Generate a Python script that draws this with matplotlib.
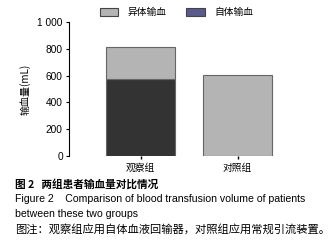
import matplotlib
matplotlib.use("Agg")
import matplotlib.pyplot as plt
from matplotlib.patches import Patch

groups = ["观察组", "对照组"]
auto_blood = [575, 0]
allo_blood = [235, 605]
yticks = [0, 200, 400, 600, 800, 1000]
ytick_labels = ["0", "200", "400", "600", "800", "1 000"]

cjk = ["Noto Sans CJK SC", "DejaVu Sans"]
lat = ["Liberation Sans", "Noto Sans CJK SC"]

fig = plt.figure(figsize=(3.35, 2.46), dpi=100)
ax = fig.add_axes([0.206, 0.366, 0.72, 0.545])

x = [0, 1]
ax.bar(x, auto_blood, width=0.72, color="#333333", edgecolor="#666666", linewidth=0.8)
ax.bar(x, allo_blood, width=0.72, bottom=auto_blood, color="#b4b4b4",
       edgecolor="#666666", linewidth=0.8)

ax.set_xlim(-0.738, 1.75)
ax.set_ylim(0, 1000)
ax.set_yticks(yticks)
ax.set_yticklabels(ytick_labels, family=lat, fontsize=7.3)
ax.set_xticks(x)
ax.set_xticklabels(groups, family=cjk, fontsize=7)
ax.tick_params(axis="y", length=2, width=0.8, pad=2.5)
ax.tick_params(axis="x", length=2, width=1, pad=3)
for s in ["top", "right", "bottom"]:
    ax.spines[s].set_visible(False)
ax.spines["left"].set_linewidth(0.8)
ax.set_ylabel("输血量(mL)", family=cjk, fontsize=7.2, labelpad=5)

handles = [Patch(facecolor="#b4b4b4", edgecolor="#444444", linewidth=0.8, label="异体输血"),
           Patch(facecolor="#5a5a8c", edgecolor="#444444", linewidth=0.8, label="自体输血")]
fig.legend(handles=handles, loc="center", bbox_to_anchor=(0.527, 0.95), ncol=2,
           frameon=False, prop={"family": cjk, "size": 7},
           handlelength=1.9, handleheight=0.9, columnspacing=2.0, handletextpad=1.0)

fig.text(0.045, 1 - 184 / 246, "图 2   两组患者输血量对比情况", family=cjk, fontsize=7.7,
         fontweight="bold", va="center")
fig.text(0.045, 1 - 199 / 246, "Figure 2    Comparison of blood transfusion volume of patients",
         family=lat, fontsize=7.6, va="center")
fig.text(0.045, 1 - 214 / 246, "between these two groups", family=lat, fontsize=7.6, va="center")
fig.text(0.045, 1 - 229 / 246, "图注：观察组应用自体血液回输器，对照组应用常规引流装置。",
         family=cjk, fontsize=8.1, va="center")

fig.savefig("out.png", dpi=100)
